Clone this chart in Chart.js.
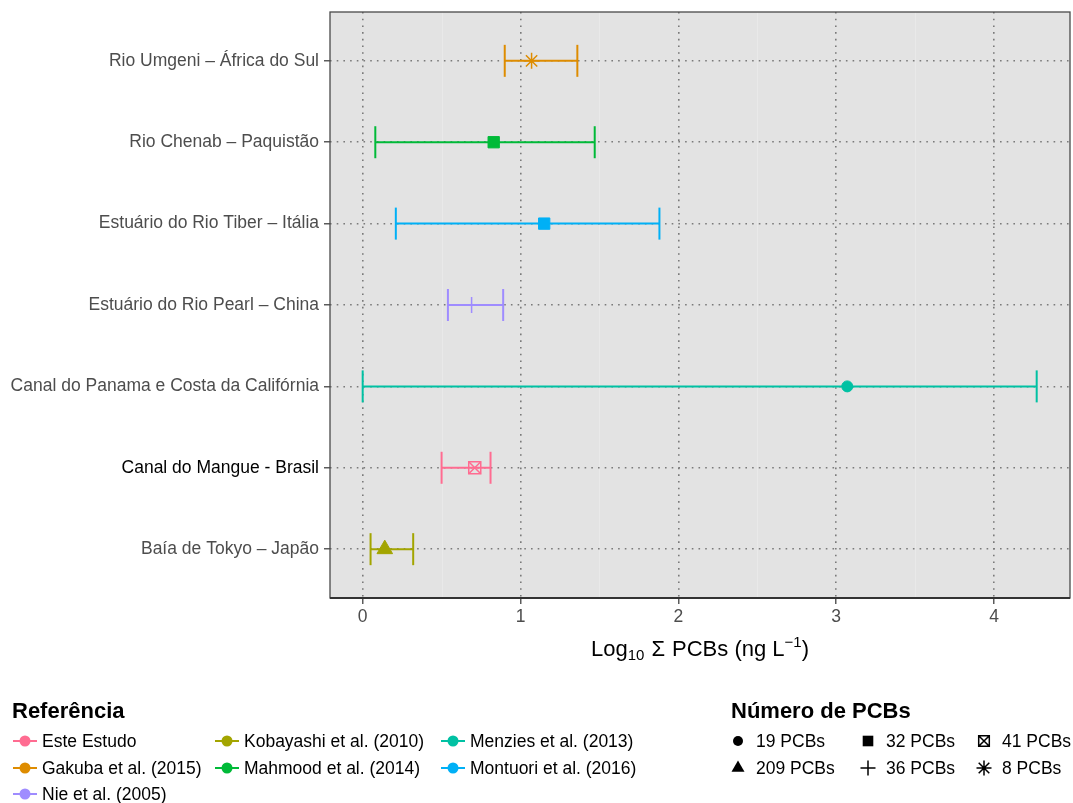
<!DOCTYPE html>
<html>
<head>
<meta charset="utf-8">
<script src="https://cdn.jsdelivr.net/npm/chart.js@4/dist/chart.umd.min.js"></script>
<style>
html,body{margin:0;padding:0;background:#fff;}
#wrap{width:1073px;height:803px;position:relative;}
</style>
</head>
<body>
<div id="wrap"><canvas id="c" width="1073" height="803"></canvas></div>
<script>
// ---------- DATA ----------
const categories = [
  "Baía de Tokyo – Japão",
  "Canal do Mangue - Brasil",
  "Canal do Panama e Costa da Califórnia",
  "Estuário do Rio Pearl – China",
  "Estuário do Rio Tiber – Itália",
  "Rio Chenab – Paquistão",
  "Rio Umgeni – África do Sul"
];
const references = [
  "Kobayashi et al. (2010)",
  "Este Estudo",
  "Menzies et al. (2013)",
  "Nie et al. (2005)",
  "Montuori et al. (2016)",
  "Mahmood et al. (2014)",
  "Gakuba et al. (2015)"
];
const meanValues = [0.14, 0.71, 3.07, 0.69, 1.15, 0.83, 1.07];
const lowValues  = [0.05, 0.50, 0.00, 0.54, 0.21, 0.08, 0.90];
const highValues = [0.32, 0.81, 4.27, 0.89, 1.88, 1.47, 1.36];
const pcbCounts  = ["209 PCBs", "41 PCBs", "19 PCBs", "36 PCBs", "32 PCBs", "32 PCBs", "8 PCBs"];
const xTicks = [0, 1, 2, 3, 4];
const legendReferences = [
  "Este Estudo", "Gakuba et al. (2015)", "Nie et al. (2005)",
  "Kobayashi et al. (2010)", "Mahmood et al. (2014)",
  "Menzies et al. (2013)", "Montuori et al. (2016)"
];
const legendPcbs = ["19 PCBs", "209 PCBs", "32 PCBs", "36 PCBs", "41 PCBs", "8 PCBs"];

// ---------- STYLES ----------
const refColors = {
  "Este Estudo": "#FF6C91",
  "Gakuba et al. (2015)": "#DE8C00",
  "Nie et al. (2005)": "#9F8CFF",
  "Kobayashi et al. (2010)": "#A3A500",
  "Mahmood et al. (2014)": "#00BA38",
  "Menzies et al. (2013)": "#00C1A3",
  "Montuori et al. (2016)": "#00B0F6"
};
// legend cell (column,row) for each reference entry, in legendReferences order
const refLegendCells = [[0,0],[0,1],[0,2],[1,0],[1,1],[2,0],[2,1]];
const pcbShapes = {
  "19 PCBs": {style: "circle", r: 5.5, fill: true},
  "209 PCBs": {style: "triangle", r: 9, fill: true},
  "32 PCBs": {style: "rect", r: 8, fill: true},
  "36 PCBs": {style: "cross", r: 8, fill: false},
  "41 PCBs": {style: "crossRect", r: 8.5, fill: false},
  "8 PCBs": {style: "star", r: 8, fill: false}
};
const FONT = "'Liberation Sans', Arial, Helvetica, sans-serif";

// ---------- DATASETS ----------
const datasets = [];
categories.forEach((cat, i) => {
  const col = refColors[references[i]];
  datasets.push({
    type: 'scatter',
    label: references[i] + ' range',
    data: [{x: lowValues[i], y: i + 1}, {x: highValues[i], y: i + 1}],
    showLine: true,
    borderColor: col,
    borderWidth: 2,
    pointStyle: 'line',
    rotation: 90,
    pointRadius: 16,
    pointBorderWidth: 2,
    pointBorderColor: col,
    pointHoverRadius: 16,
    order: 2
  });
  const shp = pcbShapes[pcbCounts[i]];
  const parts = shp.style === 'crossRect' ? ['rect', 'crossRot'] : [shp.style];
  parts.forEach(ps => {
    datasets.push({
      type: 'scatter',
      label: references[i] + ' ' + pcbCounts[i],
      data: [{x: meanValues[i], y: i + 1}],
      pointStyle: ps,
      pointRadius: shp.r,
      pointHoverRadius: shp.r,
      backgroundColor: shp.fill ? col : 'rgba(0,0,0,0)',
      borderColor: col,
      pointBorderWidth: shp.fill ? 1 : 1.5,
      order: 1
    });
  });
});

// ---------- DRAW HELPERS ----------
function drawShape(ctx, style, x, y, r, color, fill) {
  ctx.save();
  ctx.strokeStyle = color; ctx.fillStyle = color; ctx.lineWidth = fill ? 1 : 1.5;
  ctx.beginPath();
  if (style === 'circle') {
    ctx.arc(x, y, r, 0, Math.PI * 2); ctx.fill();
  } else if (style === 'triangle') {
    const w = r * Math.sqrt(3) / 2;
    ctx.moveTo(x, y - r); ctx.lineTo(x + w, y + r / 2); ctx.lineTo(x - w, y + r / 2); ctx.closePath(); ctx.fill();
  } else if (style === 'rect') {
    const s = r * Math.SQRT1_2; ctx.rect(x - s, y - s, 2 * s, 2 * s); ctx.fill();
  } else if (style === 'cross') {
    ctx.moveTo(x, y - r); ctx.lineTo(x, y + r); ctx.moveTo(x - r, y); ctx.lineTo(x + r, y); ctx.stroke();
  } else if (style === 'crossRect') {
    const s = r * Math.SQRT1_2;
    ctx.rect(x - s, y - s, 2 * s, 2 * s);
    ctx.moveTo(x - s, y - s); ctx.lineTo(x + s, y + s); ctx.moveTo(x + s, y - s); ctx.lineTo(x - s, y + s); ctx.stroke();
  } else if (style === 'star') {
    const s = r * Math.SQRT1_2;
    ctx.moveTo(x, y - r); ctx.lineTo(x, y + r); ctx.moveTo(x - r, y); ctx.lineTo(x + r, y);
    ctx.moveTo(x - s, y - s); ctx.lineTo(x + s, y + s); ctx.moveTo(x + s, y - s); ctx.lineTo(x - s, y + s); ctx.stroke();
  }
  ctx.restore();
}

const decor = {
  id: 'decor',
  beforeDraw(chart) {
    const {ctx, chartArea: a, scales: {x}} = chart;
    ctx.save();
    ctx.fillStyle = '#e3e3e3';
    ctx.fillRect(a.left, a.top, a.right - a.left, a.bottom - a.top);
    ctx.strokeStyle = '#ebebeb';
    ctx.lineWidth = 0.8;
    for (let i = 0; i < xTicks.length; i++) {
      const v = xTicks[i] + 0.5;
      if (v > x.max) continue;
      const px = Math.round(x.getPixelForValue(v)) + 0.5;
      ctx.beginPath(); ctx.moveTo(px, a.top); ctx.lineTo(px, a.bottom); ctx.stroke();
    }
    ctx.restore();
  },
  afterDraw(chart) {
    const {ctx, chartArea: a} = chart;
    ctx.save();
    // panel border
    ctx.strokeStyle = '#4a4a4a';
    ctx.lineWidth = 1.3;
    ctx.strokeRect(a.left, a.top, a.right - a.left, a.bottom - a.top);
    ctx.strokeStyle = '#333';
    ctx.lineWidth = 2;
    ctx.beginPath(); ctx.moveTo(a.left, a.bottom); ctx.lineTo(a.right, a.bottom); ctx.stroke();

    // axis title: Log10 Σ PCBs (ng L-1)
    const big = '22px ' + FONT, small = '15px ' + FONT;
    const pieces = [
      {t: 'Log', f: big, dy: 0},
      {t: '10', f: small, dy: 4},
      {t: '', f: big, dy: 0, gap: 7},
      {t: 'Σ', f: big, dy: 0},
      {t: '', f: big, dy: 0, gap: 7},
      {t: 'PCBs (ng L', f: big, dy: 0},
      {t: '−1', f: small, dy: -9},
      {t: ')', f: big, dy: 0}
    ];
    let tw = 0;
    pieces.forEach(p => { ctx.font = p.f; p.w = ctx.measureText(p.t).width + (p.gap || 0); tw += p.w; });
    let cx = (a.left + a.right) / 2 - tw / 2;
    const ty = 656;
    ctx.fillStyle = '#000';
    ctx.textBaseline = 'alphabetic';
    ctx.textAlign = 'left';
    pieces.forEach(p => { ctx.font = p.f; if (p.t) ctx.fillText(p.t, cx, ty + p.dy); cx += p.w; });

    // legend: Referência
    ctx.textBaseline = 'middle';
    ctx.font = 'bold 22px ' + FONT;
    ctx.fillText('Referência', 12, 712);
    const rowsY = [741, 768, 794];
    const colKeyX = [13, 215, 441];
    ctx.font = '17.5px ' + FONT;
    legendReferences.forEach((ref, k) => {
      const [col, row] = refLegendCells[k];
      const kx = colKeyX[col], ky = rowsY[row];
      const c = refColors[ref];
      ctx.strokeStyle = c; ctx.lineWidth = 2;
      ctx.beginPath(); ctx.moveTo(kx, ky); ctx.lineTo(kx + 24, ky); ctx.stroke();
      ctx.fillStyle = c;
      ctx.beginPath(); ctx.arc(kx + 12, ky, 5.5, 0, Math.PI * 2); ctx.fill();
      ctx.fillStyle = '#000';
      ctx.fillText(ref, kx + 29, ky + 1);
    });

    // legend: Número de PCBs
    ctx.font = 'bold 22px ' + FONT;
    ctx.fillText('Número de PCBs', 731, 712);
    ctx.font = '17.5px ' + FONT;
    const pColX = [738, 868, 984];
    legendPcbs.forEach((p, k) => {
      const col = Math.floor(k / 2), row = k % 2;
      const sx = pColX[col], sy = rowsY[row];
      const shp = pcbShapes[p];
      drawShape(ctx, shp.style, sx, sy, shp.style === 'circle' ? 5 : 7.5, '#000', shp.fill);
      ctx.fillStyle = '#000';
      ctx.fillText(p, sx + 18, sy + 1);
    });
    ctx.restore();
  }
};

new Chart(document.getElementById('c'), {
  type: 'scatter',
  data: {datasets},
  plugins: [decor],
  options: {
    responsive: false,
    animation: false,
    events: [],
    layout: {autoPadding: false, padding: {left: 0, right: 3, top: 12, bottom: 155}},
    plugins: {legend: {display: false}, tooltip: {enabled: false}},
    scales: {
      x: {
        type: 'linear',
        min: -0.207,
        max: 4.481,
        afterBuildTicks: s => { s.ticks = xTicks.map(v => ({value: v})); },
        afterFit: s => { s.height = 50; s.paddingLeft = 0; s.paddingRight = 0; },
        grid: {color: '#7a7a7a', lineWidth: 1.6, tickLength: 6, tickColor: '#333', tickWidth: 1.2, tickBorderDash: []},
        border: {display: false, dash: [1.6, 5.1]},
        ticks: {color: '#4d4d4d', font: {family: FONT, size: 17.5}, padding: 3}
      },
      y: {
        type: 'linear',
        min: 0.4,
        max: 7.6,
        afterBuildTicks: s => { s.ticks = categories.map((c, i) => ({value: i + 1})); },
        afterFit: s => { s.width = 330; s.paddingTop = 0; s.paddingBottom = 0; },
        grid: {color: '#7a7a7a', lineWidth: 1.6, tickLength: 6, tickColor: '#333', tickWidth: 1.2, tickBorderDash: []},
        border: {display: false, dash: [1.6, 5.1]},
        ticks: {
          color: ctx => (ctx.tick && ctx.tick.value === 2) ? '#000' : '#4d4d4d',
          font: {family: FONT, size: 17.5},
          padding: 5,
          callback: v => categories[v - 1]
        }
      }
    }
  }
});
</script>
</body>
</html>
